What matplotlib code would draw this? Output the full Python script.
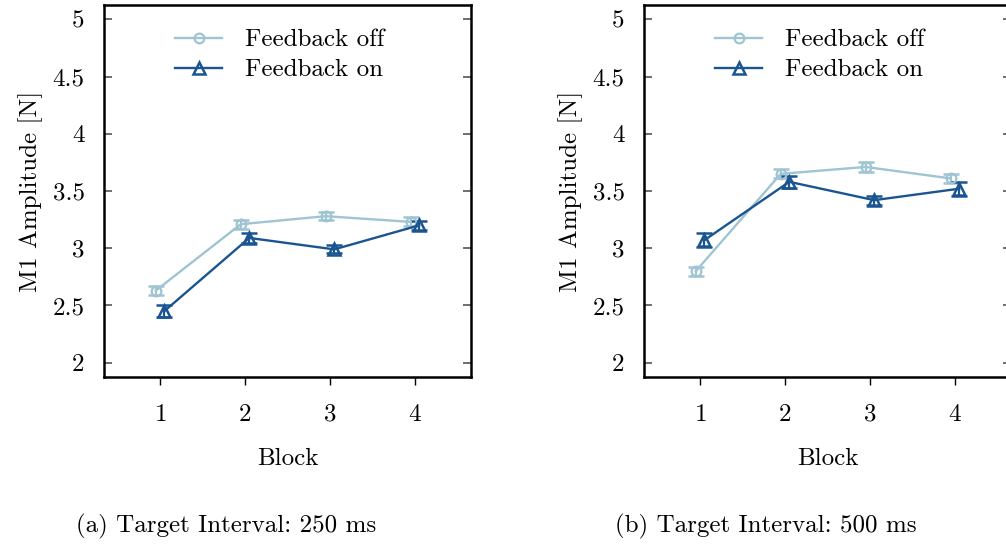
import matplotlib.pyplot as plt

plt.rcParams["font.family"] = "cmr10"
plt.rcParams["mathtext.fontset"] = "cm"
plt.rcParams["axes.formatter.use_mathtext"] = True

blocks = [1, 2, 3, 4]
captions = ["(a) Target Interval: 250 ms", "(b) Target Interval: 500 ms"]

off_250 = [2.63, 3.21, 3.28, 3.23]
off_250_err = [0.04, 0.04, 0.035, 0.04]
on_250 = [2.45, 3.09, 2.99, 3.20]
on_250_err = [0.05, 0.04, 0.035, 0.04]

off_500 = [2.80, 3.65, 3.71, 3.61]
off_500_err = [0.04, 0.04, 0.045, 0.04]
on_500 = [3.07, 3.58, 3.42, 3.52]
on_500_err = [0.06, 0.05, 0.04, 0.06]

LIGHT = "#9fc4d2"
DARK = "#1a5592"
W, H = 1006, 545
FS = 18

fig = plt.figure(figsize=(W / 100, H / 100), dpi=100)

panels = [
    (104, off_250, off_250_err, on_250, on_250_err, captions[0], 226),
    (644, off_500, off_500_err, on_500, on_500_err, captions[1], 766),
]

for left, off, off_e, on, on_e, cap, cap_x in panels:
    ax = fig.add_axes([left / W, (H - 377) / H, 367 / W, 372 / H])
    xo = [b - 0.05 for b in blocks]
    xn = [b + 0.05 for b in blocks]
    # error bars first, lines and markers on top
    ax.errorbar(xo, off, yerr=off_e, fmt="none", ecolor=LIGHT,
                capsize=5.5, capthick=1.8, elinewidth=1.6)
    ax.errorbar(xn, on, yerr=on_e, fmt="none", ecolor=DARK,
                capsize=5.5, capthick=1.8, elinewidth=1.6)
    ax.plot(xo, off, color=LIGHT, marker="o", ms=7, mfc="none", mew=1.6,
            lw=1.7, label="Feedback off")
    ax.plot(xn, on, color=DARK, marker="^", ms=8.5, mfc="none", mew=1.8,
            lw=1.7, label="Feedback on")
    ax.set_xlim(0.34, 4.66)
    ax.set_ylim(1.875, 5.125)
    ax.set_xticks(blocks)
    ax.set_yticks([2, 2.5, 3, 3.5, 4, 4.5, 5])
    ax.set_yticklabels(["2", "2.5", "3", "3.5", "4", "4.5", "5"])
    for s in ax.spines.values():
        s.set_linewidth(1.8)
    ax.tick_params(axis="y", direction="in", length=6, width=1.2,
                   color="#555555", right=True, labelsize=FS, pad=14)
    ax.tick_params(axis="x", direction="out", length=6, width=1.0,
                   labelsize=FS, pad=13)
    ax.set_xlabel("Block", fontsize=FS, labelpad=16)
    ax.set_ylabel("M1 Amplitude [N]", fontsize=FS, labelpad=7)
    ax.legend(loc="upper center", frameon=False, fontsize=FS,
              handlelength=1.85, handletextpad=0.95, labelspacing=0.3,
              borderaxespad=0.55, bbox_to_anchor=(0.48, 1.0))
    fig.text(cap_x / W, (H - 526) / H, cap, fontsize=FS, ha="center", va="center")

fig.savefig("out.png", dpi=100)
